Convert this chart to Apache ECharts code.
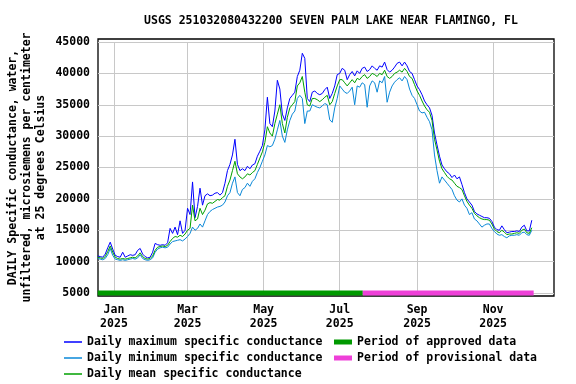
<!DOCTYPE html>
<html><head><meta charset="utf-8">
<script src="https://cdn.jsdelivr.net/npm/echarts@6/dist/echarts.min.js"></script>
<style>html,body{margin:0;padding:0;background:#fff}#c{width:576px;height:384px}</style>
</head><body><div id="c"></div>
<script>
const FONT = '"DejaVu Sans Mono", monospace';
// day offsets from 2025-01-01; one value every stepDays days starting at startDay
const startDay = -13, stepDays = 2;
const maxVals = [
10900,10800,10700,11200,12200,13100,12000,11000,10800,10700,
11500,10700,10900,11100,11000,11100,11800,12100,11200,10800,
10600,10700,11500,12900,12700,12600,12700,12600,13000,15300,
14500,15500,14300,16500,14500,15000,18500,17500,22700,17000,
18800,21700,19000,20500,20800,20500,20600,20900,21000,20600,
21000,22500,24500,25500,27000,29500,25500,24500,24800,24500,
25200,24800,25400,25600,26800,27600,28500,31000,36200,32000,
31500,34000,38900,37500,33500,32500,34500,36000,36500,37000,
39500,40500,43200,42400,36000,35500,37000,37200,36800,36600,
36800,37400,37800,36000,36800,38000,39800,40000,40800,40500,
39000,39800,40300,39600,40400,40000,40800,41000,40300,40600,
41200,40800,40500,41200,41000,41800,40600,40200,40500,41000,
41600,41800,41200,41800,41200,40300,40000,39000,38000,37400,
36600,35600,35000,34500,33300,30500,28600,26800,25400,24800,
24300,24000,23400,23800,23200,23500,22300,21000,20000,19500,
19000,18000,17600,17400,17200,17000,17000,16900,16400,15500,
15100,15000,15700,15100,14600,14700,14800,14800,14900,14800,
15500,15800,14900,14900,16600];
const minVals = [
10500,10400,10300,10500,11100,12100,11000,10400,10300,10200,
10300,10200,10300,10400,10500,10400,10600,11100,10500,10300,
10200,10300,10600,11500,12000,12200,12300,12200,12300,12800,
13200,13300,13400,13500,13300,13600,14000,14500,15500,15000,
15300,16000,15500,16500,17500,18000,18300,18500,18700,18800,
19000,19500,20500,21000,22500,23500,21000,20500,21500,21800,
22500,22000,22800,23200,24200,25000,26000,27000,28500,28300,
28500,29500,31000,32500,30000,29000,31000,32500,33500,34000,
36000,36500,36000,32000,34000,34000,35000,34800,34600,34500,
34800,35200,35000,32600,32200,34500,36000,38000,37500,37000,
36800,37200,37800,35000,38000,37800,38500,38200,34600,38000,
38800,38500,37000,38800,38500,39500,35400,37000,38000,38600,
39000,39300,38800,39500,39000,37500,36500,36000,35000,34000,
33700,33800,33000,32300,31000,27000,24500,22500,23500,23000,
22500,22000,21500,20500,19800,19500,20000,19000,18500,17500,
17800,16800,16500,16000,15500,15800,16000,16000,15300,14800,
14400,14200,14300,14000,13800,14100,14200,14200,14300,14200,
14600,14700,14300,14200,15000];
const meanVals = [
10700,10600,10500,10800,11600,12500,11500,10700,10500,10400,
10500,10400,10500,10600,10700,10600,10900,11400,10800,10500,
10400,10500,10900,11800,12300,12400,12500,12400,12600,13200,
13700,14000,13900,14200,14000,14400,15000,15300,19000,16500,
16800,18500,17500,18200,19200,19400,19300,19600,19900,19800,
20200,20500,22000,23000,24500,26000,24000,23500,23200,23500,
24000,23800,24200,24500,25500,26500,27500,29000,31500,30500,
30000,32000,33500,35000,32000,30500,33000,34500,35000,35500,
38000,38500,39500,37000,35000,34800,36000,36000,35800,35500,
35800,36200,36500,35000,35500,36800,38000,39000,39000,38500,
38000,38500,39000,38500,39200,39000,39500,39800,39200,39500,
40000,39800,39500,40000,39800,40500,39500,39200,39500,40000,
40200,40500,40200,40800,40300,39500,39200,38200,37200,36500,
35600,34800,34200,33800,32500,29500,27800,26000,24800,24200,
23600,23200,23000,22500,22000,21800,21500,20500,19600,19000,
18500,17700,17300,17000,16800,16700,16700,16600,16000,15200,
14800,14600,15000,14700,14300,14400,14400,14500,14600,14500,
15000,15200,14600,14500,15400];
const approvedSpan = [-13, 199.5];
const provisionalSpan = [199.5, 336.5];
const barLevel = 5000;
const tickDays = [0, 59, 120, 181, 243, 304];
const tickLabels = ['Jan\n2025','Mar\n2025','May\n2025','Jul\n2025','Sep\n2025','Nov\n2025'];
const xRange = [-12.8, 352.8];
const yMin = 5000, yMax = 45000, yStep = 5000;

function toPairs(vals){ return vals.map((v,i)=>[startDay + i*stepDays, v]); }
const txt = {fontFamily: FONT, fontSize: 11.5, fontWeight: 'bold', color: '#000'};

const chart = echarts.init(document.getElementById('c'), null, {renderer:'canvas'});
chart.setOption({
  animation: false,
  backgroundColor: '#fff',
  title: {text: 'USGS 251032080432200 SEVEN PALM LAKE NEAR FLAMINGO, FL', left: 326, textAlign: 'center', top: 10,
    textStyle: Object.assign({}, txt)},
  grid: [
    {left: 98, right: 22, top: 42, bottom: 91, show: false, containLabel: false, outerBoundsMode: 'none'},
    {left: 98, right: 22, top: 39, bottom: 88, show: true, borderColor: '#000', borderWidth: 1.3, backgroundColor: 'transparent', containLabel: false, outerBoundsMode: 'none'}
  ],
  xAxis: [
    {type: 'value', gridIndex: 0, min: xRange[0], max: xRange[1],
     axisLine: {show: false}, axisTick: {show: false, customValues: tickDays},
     splitLine: {show: true, lineStyle: {color: '#c8c8c8', width: 1}},
     axisLabel: Object.assign({customValues: tickDays, margin: 10, lineHeight: 14,
       formatter: v => { const k = tickDays.indexOf(v); return k >= 0 ? tickLabels[k] : ''; }}, txt)},
    {type: 'value', gridIndex: 1, min: xRange[0], max: xRange[1], show: false}
  ],
  yAxis: [
    {type: 'value', gridIndex: 0, min: yMin, max: yMax, interval: yStep,
     axisLine: {show: false}, axisTick: {show: false},
     splitLine: {show: true, lineStyle: {color: '#c8c8c8', width: 1}},
     axisLabel: Object.assign({margin: 8, formatter: v => String(v)}, txt),
     name: 'DAILY Specific conductance, water,\nunfiltered, microsiemens per centimeter\nat 25 degrees Celsius',
     nameLocation: 'middle', nameRotate: 90, nameGap: 50, nameMoveOverlap: false,
     nameTextStyle: Object.assign({lineHeight: 14, align: 'center'}, txt)},
    {type: 'value', gridIndex: 1, min: 0, max: 1, show: false}
  ],
  legend: [
    {left: 64, top: 335, height: 60, padding: 0, orient: 'vertical', itemWidth: 18, itemHeight: 1.5, itemGap: 2,
     textStyle: Object.assign({lineHeight: 14}, txt),
     data: [{name: 'Daily maximum specific conductance', icon: 'rect'},
            {name: 'Daily minimum specific conductance', icon: 'rect'},
            {name: 'Daily mean specific conductance', icon: 'rect'}]},
    {left: 334, top: 335, height: 60, padding: 0, orient: 'vertical', itemWidth: 18, itemHeight: 5, itemGap: 2,
     textStyle: Object.assign({lineHeight: 14}, txt),
     data: [{name: 'Period of approved data', icon: 'rect'}, {name: 'Period of provisional data', icon: 'rect'}]}
  ],
  series: [
    {name: 'Daily maximum specific conductance', type: 'line', data: toPairs(maxVals), showSymbol: false, symbol: 'none',
     lineStyle: {color: '#0000ff', width: 1}, itemStyle: {color: '#0000ff'}, clip: false},
    {name: 'Daily minimum specific conductance', type: 'line', data: toPairs(minVals), showSymbol: false, symbol: 'none',
     lineStyle: {color: '#0a88d8', width: 1}, itemStyle: {color: '#0a88d8'}, clip: false},
    {name: 'Daily mean specific conductance', type: 'line', data: toPairs(meanVals), showSymbol: false, symbol: 'none',
     lineStyle: {color: '#00a000', width: 1}, itemStyle: {color: '#00a000'}, clip: false},
    {name: 'Period of approved data', type: 'line', data: approvedSpan.map(d=>[d, barLevel]), symbol: 'none',
     lineStyle: {color: '#009900', width: 5, cap: 'butt'}, itemStyle: {color: '#009900'}, clip: false},
    {name: 'Period of provisional data', type: 'line', data: provisionalSpan.map(d=>[d, barLevel]), symbol: 'none',
     lineStyle: {color: '#ee40d8', width: 5, cap: 'butt'}, itemStyle: {color: '#ee40d8'}, clip: false}
  ]
});
</script></body></html>
